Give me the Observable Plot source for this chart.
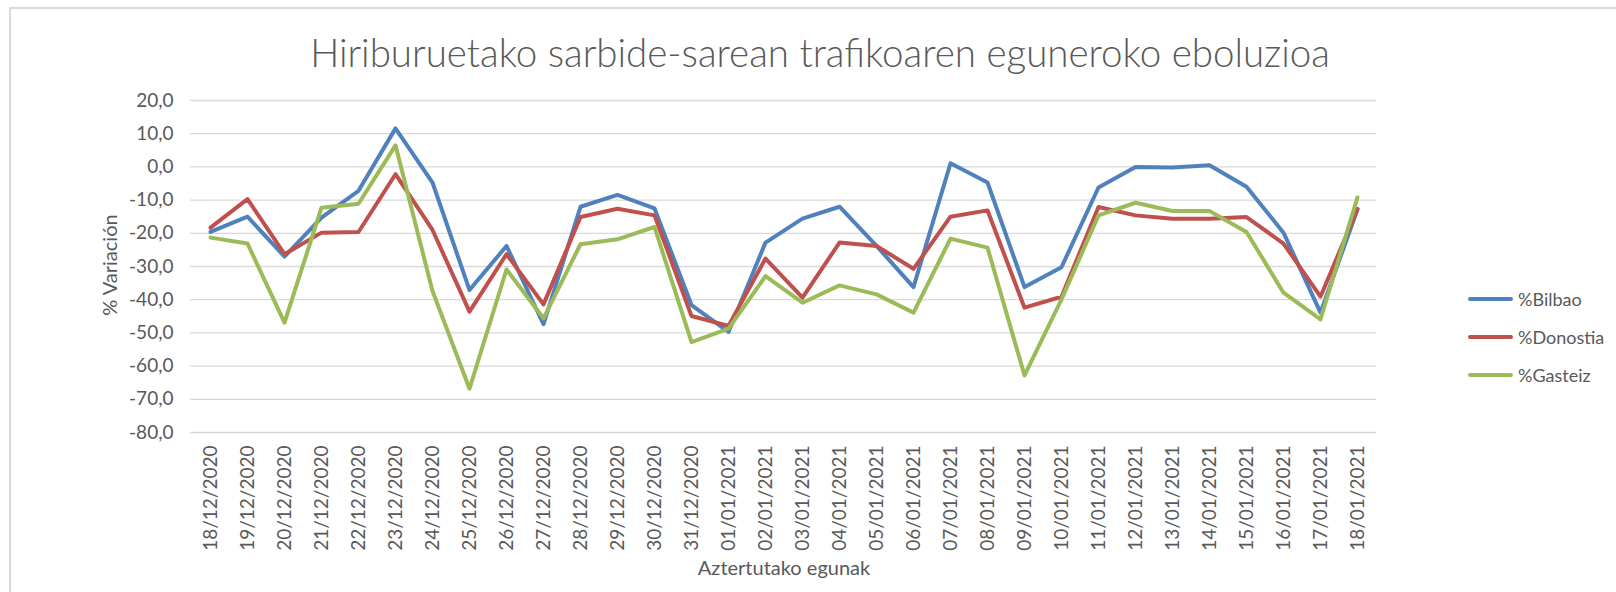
<!DOCTYPE html>
<html>
<head>
<meta charset="utf-8">
<script src="https://cdn.jsdelivr.net/npm/d3@7"></script>
<script src="https://cdn.jsdelivr.net/npm/@observablehq/plot@0.6"></script>
<style>
  html, body { margin: 0; padding: 0; background: #fff; }
  #wrap { position: relative; width: 1616px; height: 592px; overflow: hidden; font-family: Lato, "Open Sans", sans-serif; color: #595959; }
  #frame { position: absolute; left: 9px; top: 7px; width: 1700px; height: 700px; border-top: 2px solid #d9d9d9; border-left: 2px solid #d9d9d9; }
  #chart { position: absolute; left: 0; top: 0; }
  #title { position: absolute; top: 27px; left: 0; width: 1640px; text-align: center; font-weight: 300; font-size: 38.5px; white-space: nowrap; line-height: 50px; }
  #ylabel { position: absolute; left: 109px; top: 265px; transform: translate(-50%, -50%) rotate(-90deg); font-size: 20px; white-space: nowrap; }
  #xlabel { position: absolute; left: 784px; top: 567px; transform: translate(-50%, -50%); font-size: 20px; white-space: nowrap; }
  #legend { position: absolute; left: 1468px; top: 0; font-size: 18px; }
  .item { position: absolute; left: 0; display: flex; align-items: center; white-space: nowrap; transform: translateY(-50%); }
  .swatch { width: 45px; height: 4px; border-radius: 2px; margin-right: 5px; }
</style>
</head>
<body>
<div id="wrap">
  <div id="frame"></div>
  <div id="chart"></div>
  <div id="title">Hiriburuetako sarbide-sarean trafikoaren eguneroko eboluzioa</div>
  <div id="ylabel">% Variación</div>
  <div id="xlabel">Aztertutako egunak</div>
  <div id="legend"></div>
</div>
<script>
const dates = ["18/12/2020","19/12/2020","20/12/2020","21/12/2020","22/12/2020","23/12/2020","24/12/2020","25/12/2020","26/12/2020","27/12/2020","28/12/2020","29/12/2020","30/12/2020","31/12/2020","01/01/2021","02/01/2021","03/01/2021","04/01/2021","05/01/2021","06/01/2021","07/01/2021","08/01/2021","09/01/2021","10/01/2021","11/01/2021","12/01/2021","13/01/2021","14/01/2021","15/01/2021","16/01/2021","17/01/2021","18/01/2021"];
const bilbao   = [-19.6,-15.0,-27.0,-15.3,-7.2,11.6,-4.7,-37.1,-23.8,-47.4,-12.0,-8.4,-12.5,-41.6,-49.7,-22.8,-15.6,-12.0,-23.8,-36.2,1.1,-4.7,-36.2,-30.2,-6.2,0.0,-0.2,0.5,-6.0,-19.8,-43.9,-12.8];
const donostia = [-18.3,-9.7,-26.3,-19.8,-19.6,-2.2,-19.0,-43.6,-26.3,-41.4,-15.1,-12.6,-14.6,-44.9,-47.9,-27.6,-39.4,-22.8,-23.8,-30.7,-15.0,-13.1,-42.4,-39.1,-12.1,-14.6,-15.6,-15.6,-15.1,-23.1,-39.1,-12.6];
const gasteiz  = [-21.3,-23.1,-46.9,-12.3,-11.1,6.5,-37.4,-66.8,-30.9,-45.6,-23.3,-21.8,-18.1,-52.8,-48.7,-32.9,-40.9,-35.7,-38.4,-43.9,-21.6,-24.3,-62.8,-39.9,-14.6,-10.8,-13.3,-13.3,-19.6,-37.9,-45.9,-9.2];
const seriesNames = ["%Bilbao","%Donostia","%Gasteiz"];
const seriesColors = ["#4F81BD","#C0504D","#9BBB59"];
const yTicks = [20,10,0,-10,-20,-30,-40,-50,-60,-70,-80];

const seriesValues = [bilbao, donostia, gasteiz];
const rows = [];
seriesNames.forEach((name, s) => {
  dates.forEach((d, i) => rows.push({date: d, value: seriesValues[s][i], series: name}));
});

const chart = Plot.plot({
  width: 1616,
  height: 592,
  marginLeft: 190,
  marginRight: 240,
  marginTop: 100,
  marginBottom: 160,
  style: {fontFamily: "Lato, 'Open Sans', sans-serif", fontSize: "19px", color: "#595959", background: "transparent", overflow: "visible"},
  x: {type: "point", domain: dates, padding: 0.5, label: null},
  y: {domain: [-80, 20], label: null},
  color: {domain: seriesNames, range: seriesColors},
  marks: [
    Plot.gridY(yTicks, {stroke: "#d9d9d9", strokeOpacity: 1, strokeWidth: 1.3}),
    Plot.axisY(yTicks, {tickSize: 0, tickPadding: 17, fontSize: 19, tickFormat: d => d.toFixed(1).replace(".", ","), label: null}),
    Plot.axisX({tickSize: 0, tickPadding: 13, tickRotate: -90, fontSize: 19, label: null}),
    Plot.line(rows, {x: "date", y: "value", z: "series", stroke: "series", strokeWidth: 4, strokeLinejoin: "round", strokeLinecap: "round"})
  ]
});
document.getElementById("chart").appendChild(chart);

const legend = document.getElementById("legend");
const legendY = [299, 337, 375];
seriesNames.forEach((name, i) => {
  const item = document.createElement("div");
  item.className = "item";
  item.style.top = legendY[i] + "px";
  const sw = document.createElement("div");
  sw.className = "swatch";
  sw.style.background = seriesColors[i];
  const label = document.createElement("span");
  label.textContent = name;
  item.appendChild(sw);
  item.appendChild(label);
  legend.appendChild(item);
});
</script>
</body>
</html>
